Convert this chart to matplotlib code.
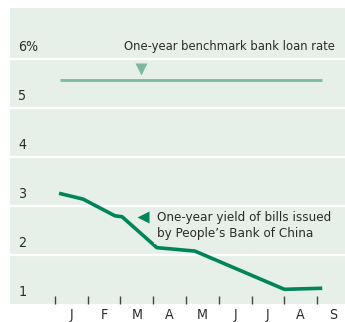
import matplotlib
matplotlib.use('Agg')
import matplotlib.pyplot as plt
import matplotlib.transforms as mtransforms
from matplotlib import font_manager

# months since Jan 1 (0 = start of January)
bill_x = [0.18, 0.86, 1.83, 2.05, 3.11, 4.27, 5.6, 7.0, 8.1]
bill_y = [3.25, 3.14, 2.80, 2.78, 2.15, 2.08, 1.70, 1.30, 1.32]
loan_x = [0.15, 8.15]
loan_y = [5.58, 5.58]

months = ['J', 'F', 'M', 'A', 'M', 'J', 'J', 'A', 'S']
y_ticks = [1, 2, 3, 4, 5, 6]
y_labels = ['1', '2', '3', '4', '5', '6%']

names = {f.name for f in font_manager.fontManager.ttflist}
if 'Liberation Sans Narrow' in names:
    family = ['Liberation Sans Narrow', 'DejaVu Sans']
    stretch = 'normal'
else:
    family = ['DejaVu Sans']
    stretch = 'condensed'
plt.rcParams['font.family'] = family

BG = '#e6f0e9'
TXT = '#2b2b2b'
GREEN = '#00845a'
LIGHT = '#7db8a0'
FS = 9.6

fig = plt.figure(figsize=(3.45, 3.22), dpi=100)
ax = fig.add_axes([10 / 345, 18 / 322, 335 / 345, 296.5 / 322])
ax.set_facecolor(BG)
ax.set_xlim(-1.37, 8.85)
ax.set_ylim(1, 7.05)

for s in ax.spines.values():
    s.set_visible(False)

# white gridlines
for v in y_ticks[1:]:
    ax.axhline(v, color='white', lw=1.6, zorder=1)

trans = mtransforms.blended_transform_factory(ax.transAxes, ax.transData)
for v, lab in zip(y_ticks, y_labels):
    ax.text(0.025, v + 0.1, lab, transform=trans, ha='left', va='bottom',
            fontsize=FS + 0.6, color=TXT, fontstretch=stretch)

ax.set_yticks([])
ax.set_xticks(range(len(months)))
ax.set_xticklabels([])
ax.tick_params(axis='x', which='major', direction='in', length=6, width=1,
               color='#444444')
ax.set_xticks([i + 0.5 for i in range(len(months))], minor=True)
ax.set_xticklabels(months, minor=True, fontsize=FS + 0.6, color=TXT,
                   fontstretch=stretch)
ax.tick_params(axis='x', which='minor', length=0, pad=3)

ax.plot(loan_x, loan_y, color=LIGHT, lw=2, solid_capstyle='butt', zorder=3)
ax.plot(bill_x, bill_y, color=GREEN, lw=2.6, solid_joinstyle='round', zorder=4)

ax.text(2.1, 6.25, 'One-year benchmark bank loan rate', ha='left', va='center',
        fontsize=FS - 0.35, color=TXT, fontstretch=stretch, zorder=5,
        bbox=dict(boxstyle='square,pad=0.25', fc=BG, ec='none'))
ax.plot([2.63], [5.8], marker='v', ms=8, color=LIGHT, mec='none', zorder=5)

ax.text(3.11, 2.6, 'One-year yield of bills issued\nby People\u2019s Bank of China',
        ha='left', va='center', fontsize=FS, color=TXT, linespacing=1.35,
        fontstretch=stretch, zorder=5,
        bbox=dict(boxstyle='square,pad=0.25', fc=BG, ec='none'))
ax.plot([2.69], [2.78], marker='<', ms=8, color=GREEN, mec='none', zorder=6)

fig.savefig('out.png', dpi=100, facecolor='white')
